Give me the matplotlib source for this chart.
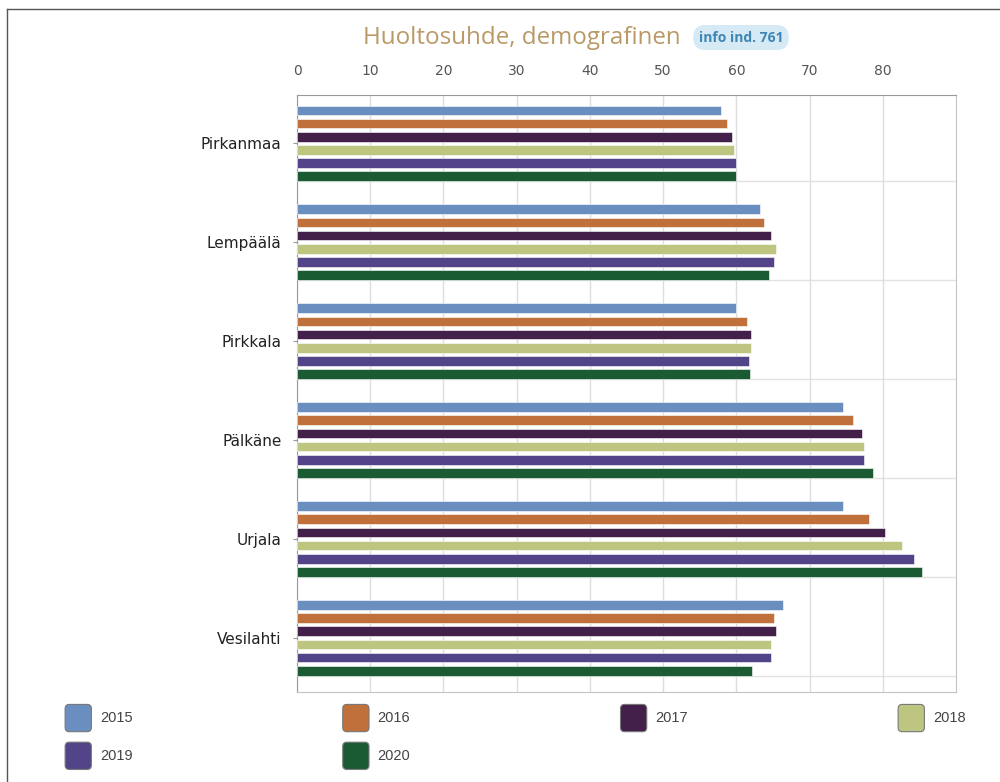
import matplotlib.pyplot as plt
import numpy as np
from matplotlib.patches import FancyBboxPatch, Patch
from matplotlib.legend_handler import HandlerPatch
from matplotlib.lines import Line2D

# Kunnat ja vuodet
kunnat = ['Pirkanmaa', 'Lempäälä', 'Pirkkala', 'Pälkäne', 'Urjala', 'Vesilahti']
vuodet = ['2015', '2016', '2017', '2018', '2019', '2020']
v2015 = [57.9, 63.2, 60.0, 74.6, 74.5, 66.4]
v2016 = [58.7, 63.8, 61.5, 76.0, 78.1, 65.2]
v2017 = [59.4, 64.7, 62.0, 77.2, 80.3, 65.4]
v2018 = [59.7, 65.4, 62.0, 77.5, 82.6, 64.7]
v2019 = [60.0, 65.1, 61.7, 77.4, 84.3, 64.7]
v2020 = [60.0, 64.5, 61.8, 78.7, 85.3, 62.1]
sarjat = [v2015, v2016, v2017, v2018, v2019, v2020]
varit = ['#6a8ebf', '#c0703a', '#42204a', '#bdc580', '#534388', '#1a5b33']


class PyoreaLaatikko(HandlerPatch):
    def create_artists(self, legend, orig_handle, xdescent, ydescent,
                       width, height, fontsize, trans):
        p = FancyBboxPatch((-xdescent, -ydescent), width, height,
                           boxstyle='round,pad=0,rounding_size=3',
                           facecolor=orig_handle.get_facecolor(),
                           edgecolor='#777777', lw=0.8, transform=trans)
        return [p]


fig = plt.figure(figsize=(10, 7.82), dpi=100)
ax = fig.add_axes([0.297, 0.1151, 0.659, 0.7634])

y = np.arange(len(kunnat))
vali = 0.132
korkeus = 0.1
for i, (arvot, vari) in enumerate(zip(sarjat, varit)):
    ax.barh(y + (i - 2.5) * vali, arvot, height=korkeus, color=vari,
            edgecolor='white', linewidth=0.4, zorder=3, label=vuodet[i])

# vaakaviivat ryhmien alla
for yy in y:
    ax.axhline(yy + 0.385, color='#e2e2e2', lw=1, zorder=1)

ax.set_xlim(0, 90)
ax.set_ylim(5.546, -0.486)
ax.set_xticks(np.arange(0, 90, 10))
ax.xaxis.tick_top()
ax.tick_params(axis='x', length=0, pad=12, labelsize=10, labelcolor='#555555')
ax.grid(axis='x', color='#dddddd', lw=1, zorder=0)
ax.set_yticks(y)
ax.set_yticklabels(kunnat, fontsize=11, color='#222222')
ax.tick_params(axis='y', length=3, color='#999999', pad=8)

for s in ['top', 'left']:
    ax.spines[s].set_color('#999999')
for s in ['right', 'bottom']:
    ax.spines[s].set_color('#c4c4c4')

fig.text(0.522, 0.952, 'Huoltosuhde, demografinen', ha='center', va='center',
         fontsize=17.4, color='#b99a66', family='Open Sans')
fig.text(0.741, 0.952, 'info ind. 761', ha='center', va='center', fontsize=10,
         color='#3f86b4', weight='bold', family='Open Sans',
         bbox=dict(boxstyle='round,pad=0.4,rounding_size=0.9',
                   facecolor='#d6eaf5', edgecolor='none'))

# legenda riveittäin: 2015 2016 2017 2018 / 2019 2020
jarjestys = [0, 4, 1, 5, 2, 3]
kahvat = [Patch(facecolor=varit[k]) for k in jarjestys]
nimet = [vuodet[k] for k in jarjestys]
leg = fig.legend(kahvat, nimet, ncol=4, loc='upper left', bbox_to_anchor=(0.052, 0.116),
                 frameon=False, handlelength=1.8, handleheight=2.5,
                 handletextpad=0.6, columnspacing=14.4, labelspacing=0.72,
                 handler_map={Patch: PyoreaLaatikko()},
                 prop={'family': 'Liberation Sans', 'size': 10.5})
for t in leg.get_texts():
    t.set_color('#444444')

# kehys vasemmalla ja ylhäällä
fig.add_artist(Line2D([0.007, 0.007], [0, 0.989], color='#555555', lw=1))
fig.add_artist(Line2D([0.007, 1], [0.989, 0.989], color='#555555', lw=1))

plt.savefig('out.png')
